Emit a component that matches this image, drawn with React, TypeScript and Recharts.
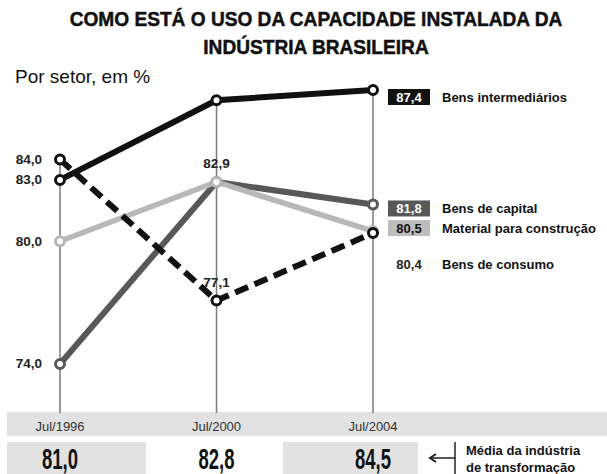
import { Line, LineChart, ReferenceLine, XAxis, YAxis } from "recharts";

const periodos = ["Jul/1996", "Jul/2000", "Jul/2004"];
const bensIntermediarios = [83.0, 86.9, 87.4];
const bensCapital = [74.0, 82.9, 81.8];
const materialConstrucao = [80.0, 82.9, 80.5];
const bensConsumo = [84.0, 77.1, 80.4];
const mediaIndustria = [81.0, 82.8, 84.5];

const yDomain: [number, number] = [71.6, 87.4];
const FONT = "'Liberation Sans', Arial, sans-serif";

type Serie = {
  key: string;
  nome: string;
  valores: number[];
  cor: string;
  largura: number;
  tracejado?: string;
  rotuloMeio: boolean;
  caixa: string | null;
  textoCaixa: string;
  dy: number;
};

// draw order matters: capital under construção, dashed consumo on top
const series: Serie[] = [
  { key: "capital", nome: "Bens de capital", valores: bensCapital, cor: "#585858", largura: 6, rotuloMeio: false, caixa: "#585858", textoCaixa: "#fff", dy: 4 },
  { key: "construcao", nome: "Material para construção", valores: materialConstrucao, cor: "#b8b8b8", largura: 5.5, rotuloMeio: true, caixa: "#bcbcbc", textoCaixa: "#111", dy: -3 },
  { key: "intermediarios", nome: "Bens intermediários", valores: bensIntermediarios, cor: "#111", largura: 6, rotuloMeio: false, caixa: "#111", textoCaixa: "#fff", dy: 7 },
  { key: "consumo", nome: "Bens de consumo", valores: bensConsumo, cor: "#111", largura: 6, tracejado: "14 7", rotuloMeio: true, caixa: null, textoCaixa: "#222", dy: 31 },
];

const chartData = periodos.map((periodo, i) => {
  const row: Record<string, string | number> = { periodo };
  series.forEach((s) => {
    row[s.key] = s.valores[i];
  });
  return row;
});

// vertical guide starts at the highest point of each period
const topos = periodos.map((_, i) => Math.max(...series.map((s) => s.valores[i])));

const fmt = (v: number) => v.toFixed(1).replace(".", ",");

function makeDot(s: Serie) {
  return (props: any) => {
    const { cx, cy, index } = props;
    const last = s.valores.length - 1;
    const txt = fmt(s.valores[index]);
    const ly = cy + s.dy;
    return (
      <g key={`${s.key}-${index}`}>
        <circle cx={cx} cy={cy} r={4.5} fill="#fff" stroke={s.cor} strokeWidth={3} />
        {index === 0 && (
          <text x={cx - 18} y={cy} textAnchor="end" dominantBaseline="central" fontSize={13.5} fontWeight="bold" fill="#222" fontFamily={FONT}>
            {txt}
          </text>
        )}
        {index === 1 && s.rotuloMeio && (
          <text x={cx} y={cy - 18} textAnchor="middle" dominantBaseline="central" fontSize={13.5} fontWeight="bold" fill="#222" fontFamily={FONT}>
            {txt}
          </text>
        )}
        {index === last && (
          <g>
            {s.caixa && <rect x={cx + 15} y={ly - 8} width={42} height={16} fill={s.caixa} />}
            <text x={cx + 36} y={ly} textAnchor="middle" dominantBaseline="central" fontSize={13} fontWeight="bold" fill={s.textoCaixa} fontFamily={FONT}>
              {txt}
            </text>
            <text x={cx + 69} y={ly} textAnchor="start" dominantBaseline="central" fontSize={13} fontWeight="bold" fill="#111" fontFamily={FONT}>
              {s.nome}
            </text>
          </g>
        )}
      </g>
    );
  };
}

function PeriodTick(props: any) {
  const { x, y, payload, index } = props;
  return (
    <g>
      <text x={x} y={y + 13} textAnchor="middle" dominantBaseline="central" fontSize={13} fill="#333" fontFamily={FONT}>
        {payload.value}
      </text>
      <text x={x} y={y + 56} textAnchor="middle" fontSize={29} fontWeight="bold" fill="#111" fontFamily={FONT} textLength={36} lengthAdjust="spacingAndGlyphs">
        {fmt(mediaIndustria[index])}
      </text>
    </g>
  );
}

export default function App() {
  return (
    <div style={{ position: "absolute", left: 0, top: 0, width: 607, height: 474, background: "#fff", fontFamily: FONT, overflow: "hidden" }}>
      <div
        style={{
          position: "absolute",
          left: 0,
          top: 5,
          width: 632,
          textAlign: "center",
          fontSize: 21,
          fontWeight: "bold",
          lineHeight: "28px",
          color: "#111",
          transform: "scaleX(0.91)",
          transformOrigin: "316px 0",
          WebkitTextStroke: "0.5px #111",
        }}
      >
        COMO ESTÁ O USO DA CAPACIDADE INSTALADA DA
        <br />
        INDÚSTRIA BRASILEIRA
      </div>
      <div style={{ position: "absolute", left: 15, top: 66, fontSize: 19, color: "#111" }}>Por setor, em %</div>

      <div style={{ position: "absolute", left: 7, top: 412, width: 600, height: 24, background: "#e2e2e2" }} />
      <div style={{ position: "absolute", left: 7, top: 442, width: 139, height: 32, background: "#e2e2e2" }} />
      <div style={{ position: "absolute", left: 283, top: 442, width: 135, height: 32, background: "#e2e2e2" }} />

      <svg style={{ position: "absolute", left: 0, top: 0 }} width={607} height={474}>
        <line x1={431} y1={458} x2={455} y2={458} stroke="#222" strokeWidth={1.5} />
        <polyline points="436,454 430,458 436,462" fill="none" stroke="#222" strokeWidth={2} />
        <line x1={455} y1={442} x2={455} y2={474} stroke="#222" strokeWidth={1.5} />
      </svg>
      <div style={{ position: "absolute", left: 466, top: 442, fontSize: 13, fontWeight: "bold", lineHeight: "17px", color: "#111" }}>
        Média da indústria
        <br />
        de transformação
      </div>

      <div style={{ position: "absolute", left: 0, top: 0 }}>
        <LineChart width={607} height={474} data={chartData} margin={{ top: 90, right: 234, bottom: 0, left: 60 }}>
          <XAxis
            dataKey="periodo"
            axisLine={false}
            tickLine={false}
            tickSize={0}
            tickMargin={0}
            height={61}
            interval={0}
            padding={{ left: 0, right: 0 }}
            tick={<PeriodTick />}
          />
          <YAxis hide domain={yDomain} />
          {periodos.map((p, i) => (
            <ReferenceLine
              key={p}
              segment={[
                { x: p, y: topos[i] },
                { x: p, y: yDomain[0] },
              ]}
              stroke="#7a7a7a"
              strokeWidth={1.5}
            />
          ))}
          {series.map((s) => (
            <Line
              key={s.key}
              type="linear"
              dataKey={s.key}
              stroke={s.cor}
              strokeWidth={s.largura}
              strokeDasharray={s.tracejado}
              dot={makeDot(s)}
              activeDot={false}
              isAnimationActive={false}
            />
          ))}
        </LineChart>
      </div>
    </div>
  );
}
